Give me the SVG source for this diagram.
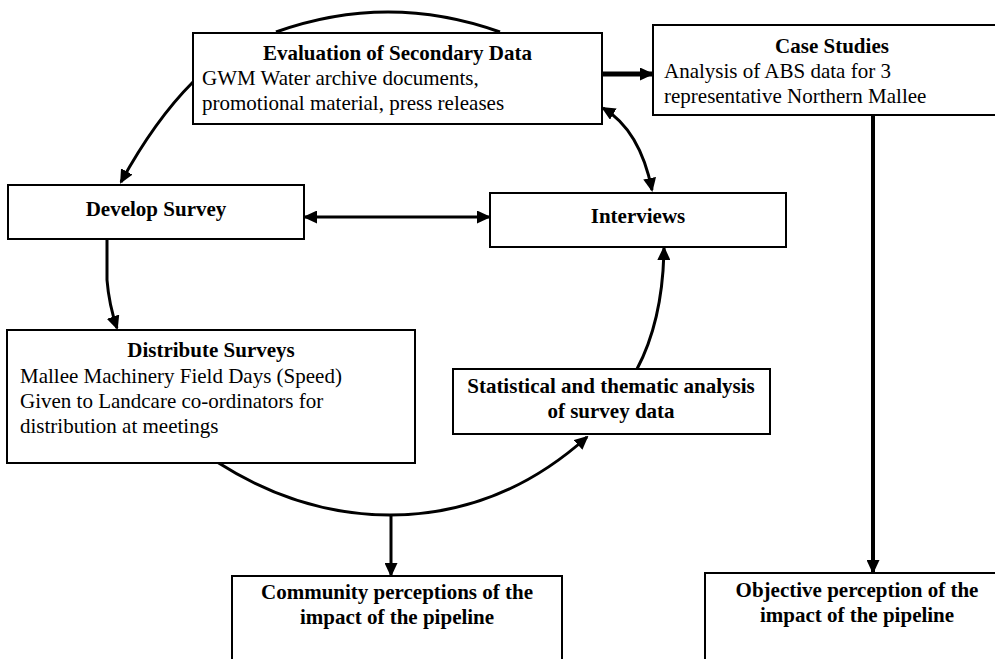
<svg xmlns="http://www.w3.org/2000/svg" width="995" height="659" viewBox="0 0 995 659">
<style>
.box{fill:#fff;stroke:#000;stroke-width:2}
.t{font-family:"Liberation Serif","Times New Roman",serif;font-size:21px;fill:#000}
.b{font-weight:bold}
.m{text-anchor:middle}
.c{fill:none;stroke:#000;stroke-width:3}
</style>
<defs>
<marker id="ah" markerUnits="userSpaceOnUse" markerWidth="14" markerHeight="13" refX="12" refY="6.5" orient="auto-start-reverse">
<path d="M0,0 L14,6.5 L0,13 z" fill="#000"/>
</marker>
</defs>
<rect width="995" height="659" fill="#fff"/>
<g id="connectors">
<path class="c" d="M276,32 Q388,-8 500,32"/>
<path class="c" d="M193,82 Q155,120 121,182" marker-end="url(#ah)"/>
<path class="c" d="M107,239 L107,280 Q109,305 117,328" marker-end="url(#ah)"/>
<path class="c" d="M305,217 L489,217" marker-start="url(#ah)" marker-end="url(#ah)"/>
<path class="c" style="stroke-width:5" d="M603,74 L652,74" marker-end="url(#ah)"/>
<path class="c" d="M603,108 Q640,130 652,190" marker-start="url(#ah)" marker-end="url(#ah)"/>
<path class="c" d="M637,369 Q663,320 664,248" marker-end="url(#ah)"/>
<path class="c" d="M217,462 Q300,515 390,515 Q500,515 587,437" marker-end="url(#ah)"/>
<path class="c" d="M391,515 L391,575" marker-end="url(#ah)"/>
<path class="c" style="stroke-width:4" d="M873,115 L873,572" marker-end="url(#ah)"/>
</g>
<g id="evaluation">
<rect class="box" x="193" y="33" width="409" height="91"/>
<text class="t b m" x="397.5" y="60">Evaluation of Secondary Data</text>
<text class="t" x="202" y="85">GWM Water archive documents,</text>
<text class="t" x="202" y="110">promotional material, press releases</text>
</g>
<g id="case-studies">
<rect class="box" x="653" y="25" width="358" height="90"/>
<text class="t b m" x="832" y="53">Case Studies</text>
<text class="t" x="664" y="78">Analysis of ABS data for 3</text>
<text class="t" x="664" y="103">representative Northern Mallee</text>
</g>
<g id="develop-survey">
<rect class="box" x="8" y="185" width="296" height="54"/>
<text class="t b m" x="156" y="216">Develop Survey</text>
</g>
<g id="interviews">
<rect class="box" x="490" y="193" width="296" height="54"/>
<text class="t b m" x="638" y="223">Interviews</text>
</g>
<g id="distribute-surveys">
<rect class="box" x="7" y="330" width="408" height="133"/>
<text class="t b m" x="211" y="357">Distribute Surveys</text>
<text class="t" x="20" y="383">Mallee Machinery Field Days (Speed)</text>
<text class="t" x="20" y="408">Given to Landcare co-ordinators for</text>
<text class="t" x="20" y="433">distribution at meetings</text>
</g>
<g id="statistical-analysis">
<rect class="box" x="453" y="369" width="317" height="65"/>
<text class="t b m" x="611" y="393">Statistical and thematic analysis</text>
<text class="t b m" x="611" y="418">of survey data</text>
</g>
<g id="community-perceptions">
<rect class="box" x="232" y="576" width="330" height="100"/>
<text class="t b m" x="397" y="599">Community perceptions of the</text>
<text class="t b m" x="397" y="624">impact of the pipeline</text>
</g>
<g id="objective-perception">
<rect class="box" x="705" y="573" width="305" height="100"/>
<text class="t b m" x="857" y="597">Objective perception of the</text>
<text class="t b m" x="857" y="622">impact of the pipeline</text>
</g>
</svg>
